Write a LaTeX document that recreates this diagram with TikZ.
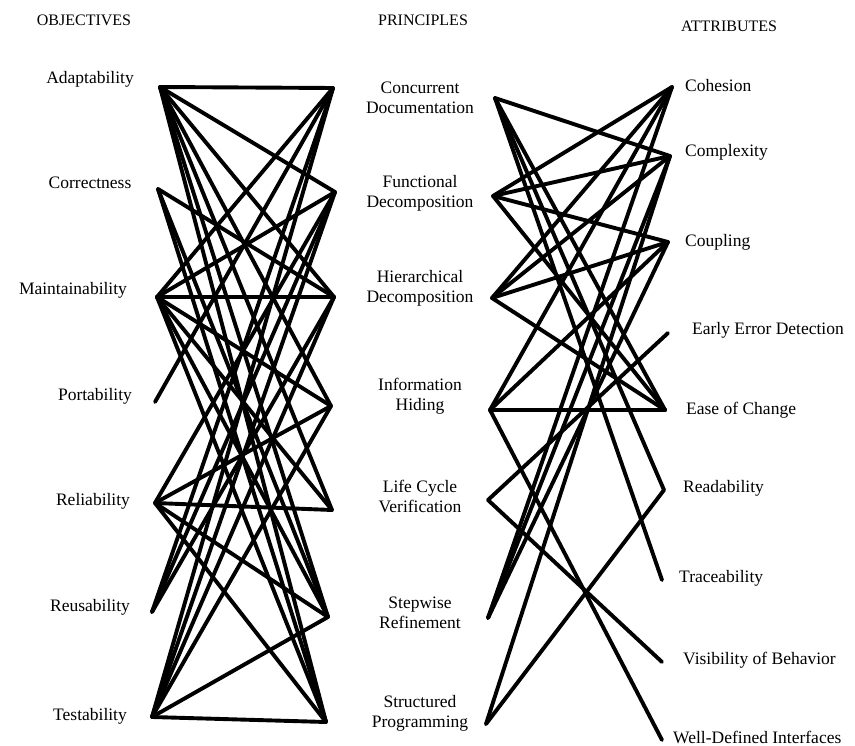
\documentclass[tikz,border=0pt]{standalone}
\usepackage{fontspec}
\setmainfont{Liberation Serif}
\begin{document}
\begin{tikzpicture}[x=1pt,y=-1pt,
  lbl/.style={font=\fontsize{17.5}{20}\selectfont, inner sep=0pt, align=center},
  hdr/.style={font=\fontsize{16}{18}\selectfont, inner sep=0pt},
  lnk/.style={line width=3.9pt, line cap=round, line join=round}]
\useasboundingbox (0,0) rectangle (855,746);
% headers
\node[hdr] (h1) at (84,20) {OBJECTIVES};
\node[hdr] (h2) at (423,20) {PRINCIPLES};
\node[hdr] (h3) at (729,26) {ATTRIBUTES};
% objectives
\node[lbl] (tA) at (90,79) {Adaptability};
\node[lbl] (tC) at (90,183) {Correctness};
\node[lbl] (tM) at (73,290) {Maintainability};
\node[lbl] (tP) at (95,396) {Portability};
\node[lbl] (tR) at (93,501) {Reliability};
\node[lbl] (tU) at (90,607) {Reusability};
\node[lbl] (tT) at (90,716) {Testability};
% principles
\node[lbl] (tCD) at (420,98) {Concurrent\\Documentation};
\node[lbl] (tFD) at (420,193) {Functional\\Decomposition};
\node[lbl] (tHD) at (420,288) {Hierarchical\\Decomposition};
\node[lbl] (tIH) at (420,396) {Information\\Hiding};
\node[lbl] (tLC) at (420,496) {Life Cycle\\Verification};
\node[lbl] (tSR) at (420,613) {Stepwise\\Refinement};
\node[lbl] (tSP) at (420,713) {Structured\\Programming};
% attributes
\node[lbl, anchor=west] (tCo) at (685,86) {Cohesion};
\node[lbl, anchor=west] (tCx) at (685,152) {Complexity};
\node[lbl, anchor=west] (tCp) at (685,242) {Coupling};
\node[lbl, anchor=west] (tEE) at (692,330) {Early Error Detection};
\node[lbl, anchor=west] (tEC) at (686,410) {Ease of Change};
\node[lbl, anchor=west] (tRd) at (683,488) {Readability};
\node[lbl, anchor=west] (tTr) at (679,578) {Traceability};
\node[lbl, anchor=west] (tVi) at (683,660) {Visibility of Behavior};
\node[lbl, anchor=west] (tWD) at (673,737) {Well-Defined Interfaces};
% anchor points
\coordinate (A) at (160,87);
\coordinate (C) at (158,189);
\coordinate (M) at (157,297);
\coordinate (P) at (155,402);
\coordinate (R) at (155,503);
\coordinate (U) at (152,612);
\coordinate (T) at (152,717);
\coordinate (CDl) at (333,88);
\coordinate (FDl) at (335,192);
\coordinate (HDl) at (334,297);
\coordinate (IHl) at (331,406);
\coordinate (LCl) at (332,510);
\coordinate (SRl) at (328,617);
\coordinate (SPl) at (326,722);
\coordinate (CDr) at (495,98);
\coordinate (FDr) at (493,196);
\coordinate (HDr) at (492,298);
\coordinate (IHr) at (490,410);
\coordinate (LCr) at (488,500);
\coordinate (SRr) at (488,618);
\coordinate (SPr) at (486,724);
\coordinate (Co) at (672,87);
\coordinate (Cx) at (670,156);
\coordinate (Cp) at (668,242);
\coordinate (EE) at (668,333);
\coordinate (EC) at (665,410);
\coordinate (Rd) at (664,490);
\coordinate (Tr) at (662,580);
\coordinate (Vi) at (662,662);
\coordinate (WD) at (662,740);
% objectives -> principles
\foreach \a/\b in {A/CDl, A/FDl, A/HDl, A/IHl, A/LCl, A/SRl, A/SPl,
  C/HDl, C/SRl, C/SPl,
  M/CDl, M/FDl, M/HDl, M/IHl, M/LCl, M/SRl, M/SPl,
  P/CDl,
  R/FDl, R/IHl, R/LCl, R/SRl, R/SPl,
  U/CDl, U/FDl, U/HDl,
  T/CDl, T/FDl, T/HDl, T/IHl, T/SRl, T/SPl}
  \draw[lnk] (\a) -- (\b);
% principles -> attributes
\foreach \a/\b in {CDr/Cx, CDr/EC, CDr/Rd, CDr/Tr,
  FDr/Co, FDr/Cx, FDr/Cp, FDr/EC,
  HDr/Co, HDr/Cx, HDr/Cp, HDr/EC,
  IHr/Co, IHr/Cp, IHr/EC, IHr/WD,
  LCr/EE, LCr/Vi,
  SRr/Co, SRr/Cx, SRr/Cp,
  SPr/Cx, SPr/Rd}
  \draw[lnk] (\a) -- (\b);
\end{tikzpicture}
\end{document}
